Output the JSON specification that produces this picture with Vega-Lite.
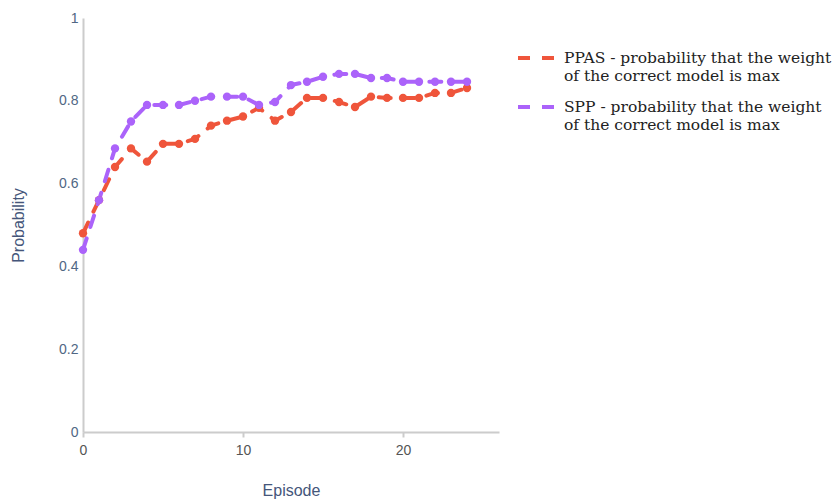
{
  "$schema": "https://vega.github.io/schema/vega-lite/v6.json",
  "width": 416,
  "height": 414,
  "autosize": "none",
  "padding": {"left": 83, "top": 18, "right": 341, "bottom": 70},
  "background": "white",
  "config": {"view": {"stroke": null}, "style": {"guide-label": {"lineHeight": 18}}},
  "data": {"values": [
    {"s": "PPAS|of the correct model is max", "e": 0, "p": 0.48},
    {"s": "PPAS|of the correct model is max", "e": 1, "p": 0.56},
    {"s": "PPAS|of the correct model is max", "e": 2, "p": 0.64},
    {"s": "PPAS|of the correct model is max", "e": 3, "p": 0.685},
    {"s": "PPAS|of the correct model is max", "e": 4, "p": 0.653},
    {"s": "PPAS|of the correct model is max", "e": 5, "p": 0.696},
    {"s": "PPAS|of the correct model is max", "e": 6, "p": 0.696},
    {"s": "PPAS|of the correct model is max", "e": 7, "p": 0.708},
    {"s": "PPAS|of the correct model is max", "e": 8, "p": 0.74},
    {"s": "PPAS|of the correct model is max", "e": 9, "p": 0.752},
    {"s": "PPAS|of the correct model is max", "e": 10, "p": 0.762},
    {"s": "PPAS|of the correct model is max", "e": 11, "p": 0.783},
    {"s": "PPAS|of the correct model is max", "e": 12, "p": 0.752},
    {"s": "PPAS|of the correct model is max", "e": 13, "p": 0.773},
    {"s": "PPAS|of the correct model is max", "e": 14, "p": 0.807},
    {"s": "PPAS|of the correct model is max", "e": 15, "p": 0.807},
    {"s": "PPAS|of the correct model is max", "e": 16, "p": 0.797},
    {"s": "PPAS|of the correct model is max", "e": 17, "p": 0.785},
    {"s": "PPAS|of the correct model is max", "e": 18, "p": 0.81},
    {"s": "PPAS|of the correct model is max", "e": 19, "p": 0.807},
    {"s": "PPAS|of the correct model is max", "e": 20, "p": 0.807},
    {"s": "PPAS|of the correct model is max", "e": 21, "p": 0.807},
    {"s": "PPAS|of the correct model is max", "e": 22, "p": 0.819},
    {"s": "PPAS|of the correct model is max", "e": 23, "p": 0.819},
    {"s": "PPAS|of the correct model is max", "e": 24, "p": 0.831},
    {"s": "SPP|of the correct model is max", "e": 0, "p": 0.44},
    {"s": "SPP|of the correct model is max", "e": 1, "p": 0.56},
    {"s": "SPP|of the correct model is max", "e": 2, "p": 0.685},
    {"s": "SPP|of the correct model is max", "e": 3, "p": 0.75},
    {"s": "SPP|of the correct model is max", "e": 4, "p": 0.79},
    {"s": "SPP|of the correct model is max", "e": 5, "p": 0.79},
    {"s": "SPP|of the correct model is max", "e": 6, "p": 0.79},
    {"s": "SPP|of the correct model is max", "e": 7, "p": 0.80},
    {"s": "SPP|of the correct model is max", "e": 8, "p": 0.81},
    {"s": "SPP|of the correct model is max", "e": 9, "p": 0.81},
    {"s": "SPP|of the correct model is max", "e": 10, "p": 0.81},
    {"s": "SPP|of the correct model is max", "e": 11, "p": 0.79},
    {"s": "SPP|of the correct model is max", "e": 12, "p": 0.797},
    {"s": "SPP|of the correct model is max", "e": 13, "p": 0.838},
    {"s": "SPP|of the correct model is max", "e": 14, "p": 0.846},
    {"s": "SPP|of the correct model is max", "e": 15, "p": 0.858},
    {"s": "SPP|of the correct model is max", "e": 16, "p": 0.865},
    {"s": "SPP|of the correct model is max", "e": 17, "p": 0.865},
    {"s": "SPP|of the correct model is max", "e": 18, "p": 0.855},
    {"s": "SPP|of the correct model is max", "e": 19, "p": 0.855},
    {"s": "SPP|of the correct model is max", "e": 20, "p": 0.846},
    {"s": "SPP|of the correct model is max", "e": 21, "p": 0.846},
    {"s": "SPP|of the correct model is max", "e": 22, "p": 0.846},
    {"s": "SPP|of the correct model is max", "e": 23, "p": 0.846},
    {"s": "SPP|of the correct model is max", "e": 24, "p": 0.846}
  ]},
  "encoding": {
    "x": {
      "field": "e", "type": "quantitative",
      "scale": {"domain": [0, 26], "nice": false, "zero": false},
      "axis": {
        "title": "Episode", "values": [0, 10, 20], "grid": false, "labelFlush": false,
        "domainColor": "#cccccc", "domainWidth": 2, "tickColor": "#cccccc", "tickWidth": 2, "tickSize": 5,
        "labelFont": "Liberation Sans", "labelFontSize": 14, "labelColor": "#555555", "labelPadding": 6,
        "titleFont": "Liberation Sans", "titleFontSize": 16, "titleFontWeight": "normal", "titleColor": "#45567a", "titlePadding": 25
      }
    },
    "y": {
      "field": "p", "type": "quantitative",
      "scale": {"domain": [0, 1], "nice": false},
      "axis": {
        "title": "Probability", "values": [0, 0.2, 0.4, 0.6, 0.8, 1], "grid": false, "ticks": false, "labelFlush": false,
        "format": "~g",
        "domainColor": "#cccccc", "domainWidth": 2,
        "labelFont": "Liberation Sans", "labelFontSize": 14, "labelColor": "#506784", "labelPadding": 5,
        "titleFont": "Liberation Sans", "titleFontSize": 16, "titleFontWeight": "normal", "titleColor": "#45567a", "titlePadding": 32
      }
    },
    "color": {
      "field": "s", "type": "nominal",
      "scale": {"domain": ["PPAS|of the correct model is max", "SPP|of the correct model is max"], "range": ["#EF553B", "#AB63FA"]},
      "legend": {
        "title": null, "orient": "none", "legendX": 433, "legendY": 18,
        "symbolType": "stroke", "symbolStrokeWidth": 4, "symbolSize": 1600, "symbolDash": [12, 12],
        "labelExpr": "[split(datum.label, '|')[0] + ' - probability that the weight', split(datum.label, '|')[1]]",
        "labelFont": "DejaVu Serif", "labelFontSize": 15.5, "labelColor": "#222222", "labelLimit": 400,
        "labelBaseline": "middle", "labelOffset": 4, "rowPadding": -4
      }
    }
  },
  "layer": [
    {"mark": {"type": "line", "strokeWidth": 4, "strokeDash": [12, 12], "strokeCap": "round", "strokeJoin": "round"}},
    {"mark": {"type": "point", "shape": "circle", "filled": true, "opacity": 1, "size": 70}}
  ]
}
